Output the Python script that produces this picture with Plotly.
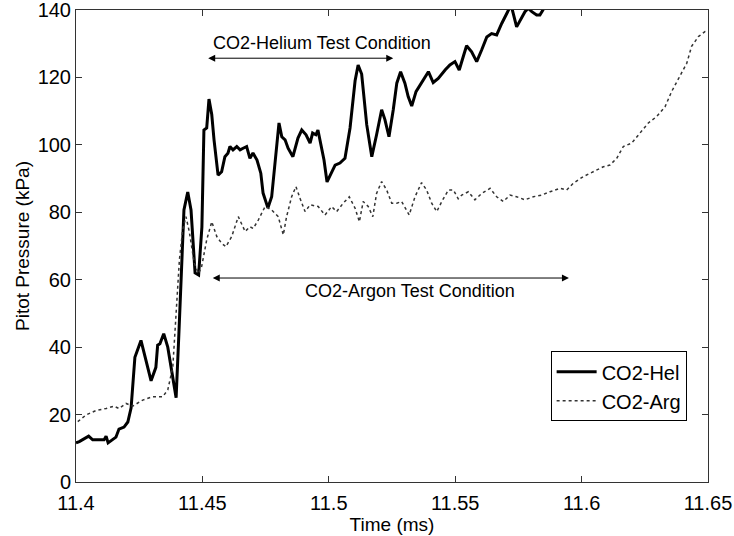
import plotly.graph_objects as go

# CO2-Helium pitot trace (time in ms, pressure in kPa)
hel_time = [11.4000, 11.4013, 11.4050, 11.4066, 11.4111, 11.4119, 11.4127, 11.4158, 11.4170, 11.4190,
            11.4205, 11.4218, 11.4233, 11.4257, 11.4277, 11.4297, 11.4316, 11.4323, 11.4332, 11.4347,
            11.4363, 11.4396, 11.4407, 11.4415, 11.4427, 11.4442, 11.4455, 11.4471, 11.4485, 11.4498,
            11.4506, 11.4517, 11.4526, 11.4537, 11.4546, 11.4562, 11.4576, 11.4589, 11.4601, 11.4609,
            11.4621, 11.4636, 11.4649, 11.4661, 11.4675, 11.4688, 11.4700, 11.4716, 11.4731, 11.4740,
            11.4759, 11.4774, 11.4787, 11.4803, 11.4814, 11.4827, 11.4839, 11.4858, 11.4878, 11.4893,
            11.4910, 11.4926, 11.4936, 11.4949, 11.4957, 11.4968, 11.4981, 11.4993, 11.5008, 11.5025,
            11.5044, 11.5064, 11.5084, 11.5104, 11.5116, 11.5130, 11.5150, 11.5170, 11.5189, 11.5209,
            11.5222, 11.5238, 11.5255, 11.5269, 11.5284, 11.5301, 11.5314, 11.5328, 11.5345, 11.5361,
            11.5378, 11.5394, 11.5413, 11.5433, 11.5460, 11.5479, 11.5499, 11.5516, 11.5532, 11.5545,
            11.5565, 11.5585, 11.5605, 11.5625, 11.5644, 11.5664, 11.5684, 11.5704, 11.5721, 11.5743,
            11.5763, 11.5776, 11.5789, 11.5803, 11.5822, 11.5835, 11.5847, 11.5859]
hel_kpa = [11.6, 12.0, 13.6, 12.5, 12.5, 13.6, 11.6, 13.3, 15.7, 16.3,
           17.8, 22.0, 37.0, 42.0, 36.0, 30.0, 34.0, 40.6, 41.0, 44.0,
           40.0, 25.0, 44.0, 61.0, 80.7, 86.0, 80.7, 62.0, 61.4, 75.6,
           104.4, 105.0, 113.6, 109.0, 101.5, 91.0, 92.0, 96.5, 97.5, 99.5,
           98.5, 99.5, 98.5, 99.0, 99.5, 96.0, 97.6, 95.5, 91.6, 85.7,
           81.3, 84.6, 95.5, 106.5, 102.4, 101.5, 99.0, 96.5, 102.0, 104.4,
           103.0, 100.5, 103.5, 103.0, 104.4, 100.0, 95.5, 89.0, 91.6, 94.0,
           94.6, 96.0, 105.0, 119.0, 123.7, 121.0, 106.0, 96.5, 103.0, 110.4,
           107.5, 102.4, 110.4, 118.3, 121.7, 118.3, 114.3, 111.5, 115.8, 117.8,
           119.7, 121.7, 118.5, 119.7, 122.2, 123.7, 124.7, 122.2, 126.2, 129.4,
           127.6, 124.7, 128.2, 132.0, 133.0, 132.6, 136.0, 139.0, 141.5, 135.0,
           137.6, 139.5, 140.5, 139.5, 138.5, 138.5, 140.0, 142.0]

# CO2-Argon pitot trace (time in ms, pressure in kPa)
arg_time = [11.4007, 11.4040, 11.4079, 11.4119, 11.4150, 11.4170, 11.4198, 11.4224, 11.4264, 11.4303,
            11.4343, 11.4363, 11.4383, 11.4396, 11.4409, 11.4422, 11.4435, 11.4448, 11.4468, 11.4485,
            11.4497, 11.4517, 11.4537, 11.4557, 11.4576, 11.4593, 11.4616, 11.4642, 11.4669, 11.4688,
            11.4701, 11.4721, 11.4748, 11.4774, 11.4800, 11.4820, 11.4833, 11.4853, 11.4870, 11.4886,
            11.4906, 11.4926, 11.4958, 11.4985, 11.5011, 11.5031, 11.5057, 11.5081, 11.5104, 11.5121,
            11.5136, 11.5156, 11.5174, 11.5189, 11.5209, 11.5229, 11.5249, 11.5269, 11.5288, 11.5318,
            11.5341, 11.5367, 11.5387, 11.5407, 11.5427, 11.5447, 11.5473, 11.5493, 11.5512, 11.5526,
            11.5552, 11.5578, 11.5605, 11.5638, 11.5664, 11.5690, 11.5717, 11.5743, 11.5776, 11.5809,
            11.5842, 11.5875, 11.5915, 11.5941, 11.5967, 11.6007, 11.6046, 11.6086, 11.6112, 11.6139,
            11.6165, 11.6198, 11.6231, 11.6264, 11.6297, 11.6330, 11.6356, 11.6389, 11.6416, 11.6435,
            11.6462, 11.6488, 11.6500]
arg_kpa = [17.9, 19.9, 21.2, 21.8, 22.5, 21.8, 23.3, 22.5, 24.3, 25.3,
           25.3, 27.3, 34.2, 51.0, 65.9, 74.8, 78.7, 74.3, 64.9, 61.9,
           63.9, 71.8, 77.2, 72.8, 70.8, 69.8, 72.8, 78.7, 74.3, 75.7,
           75.2, 77.7, 81.7, 80.7, 78.7, 73.3, 78.7, 84.6, 87.6, 84.2,
           80.2, 82.2, 81.7, 79.2, 81.7, 80.2, 82.7, 84.6, 81.2, 77.2,
           83.2, 81.7, 78.7, 85.6, 89.1, 86.6, 82.7, 82.7, 83.2, 79.2,
           84.6, 88.8, 86.6, 82.7, 80.2, 83.2, 86.6, 86.6, 84.0, 85.1,
           86.1, 83.7, 85.6, 87.1, 84.6, 83.2, 85.1, 84.6, 83.7, 84.6,
           85.1, 86.1, 87.1, 86.6, 88.6, 90.6, 92.0, 93.5, 94.0, 96.0,
           99.5, 100.5, 103.5, 106.5, 108.4, 111.3, 115.8, 120.2, 124.2, 129.2,
           132.1, 133.6, 133.2]

x_ticks = [11.4, 11.45, 11.5, 11.55, 11.6, 11.65]
y_ticks = [0, 20, 40, 60, 80, 100, 120, 140]

# Test-condition windows: (start, end, arrow level, label x, label level, label)
windows = [
    (11.4517, 11.5255, 125.7, 11.4975, 130.3, "CO2-Helium Test Condition"),
    (11.4535, 11.5950, 60.5, 11.5321, 56.7, "CO2-Argon Test Condition"),
]

FONT = "Liberation Sans, Arial, sans-serif"

fig = go.Figure()
fig.add_trace(go.Scatter(x=hel_time, y=hel_kpa, mode="lines", name="CO2-Hel",
                         line=dict(color="black", width=3)))
fig.add_trace(go.Scatter(x=arg_time, y=arg_kpa, mode="lines", name="CO2-Arg",
                         line=dict(color="#333333", width=1.5, dash="dot")))

for t0, t1, y_arrow, x_text, y_text, label in windows:
    fig.add_annotation(x=t1, y=y_arrow, ax=t0, ay=y_arrow, xref="x", yref="y",
                       axref="x", ayref="y", text="", showarrow=True,
                       arrowhead=2, startarrowhead=2, arrowside="end+start",
                       arrowsize=1.4, startarrowsize=1.4, arrowwidth=1, arrowcolor="black")
    fig.add_annotation(x=x_text, y=y_text, xref="x", yref="y", text=label, showarrow=False,
                       font=dict(family=FONT, size=18, color="black"))

axis_common = dict(showgrid=False, zeroline=False, showline=True, linecolor="#333333",
                   linewidth=1, mirror="ticks", ticks="inside", ticklen=6,
                   tickcolor="#333333", automargin=False, ticklabeloverflow="allow",
                   tickfont=dict(family=FONT, size=20, color="black"))

fig.update_xaxes(range=[11.4, 11.65], tickvals=x_ticks,
                 ticktext=[f"{v:g}" for v in x_ticks], ticklabelstandoff=3,
                 title=dict(text="Time (ms)", font=dict(family=FONT, size=19, color="black"),
                            standoff=0),
                 **axis_common)
fig.update_yaxes(range=[0, 140], tickvals=y_ticks, ticklabelstandoff=0,
                 title=dict(text="Pitot Pressure (kPa)", font=dict(family=FONT, size=19, color="black"),
                            standoff=2),
                 **axis_common)

fig.update_layout(
    width=734, height=536,
    margin=dict(l=76, r=26, t=10, b=54),
    paper_bgcolor="white", plot_bgcolor="white",
    showlegend=True,
    legend=dict(x=0.751, y=0.277, xanchor="left", yanchor="top",
                bgcolor="white", bordercolor="black", borderwidth=1,
                font=dict(family=FONT, size=20, color="black"),
                tracegroupgap=0, itemwidth=40),
)

fig.write_html("out.html")
